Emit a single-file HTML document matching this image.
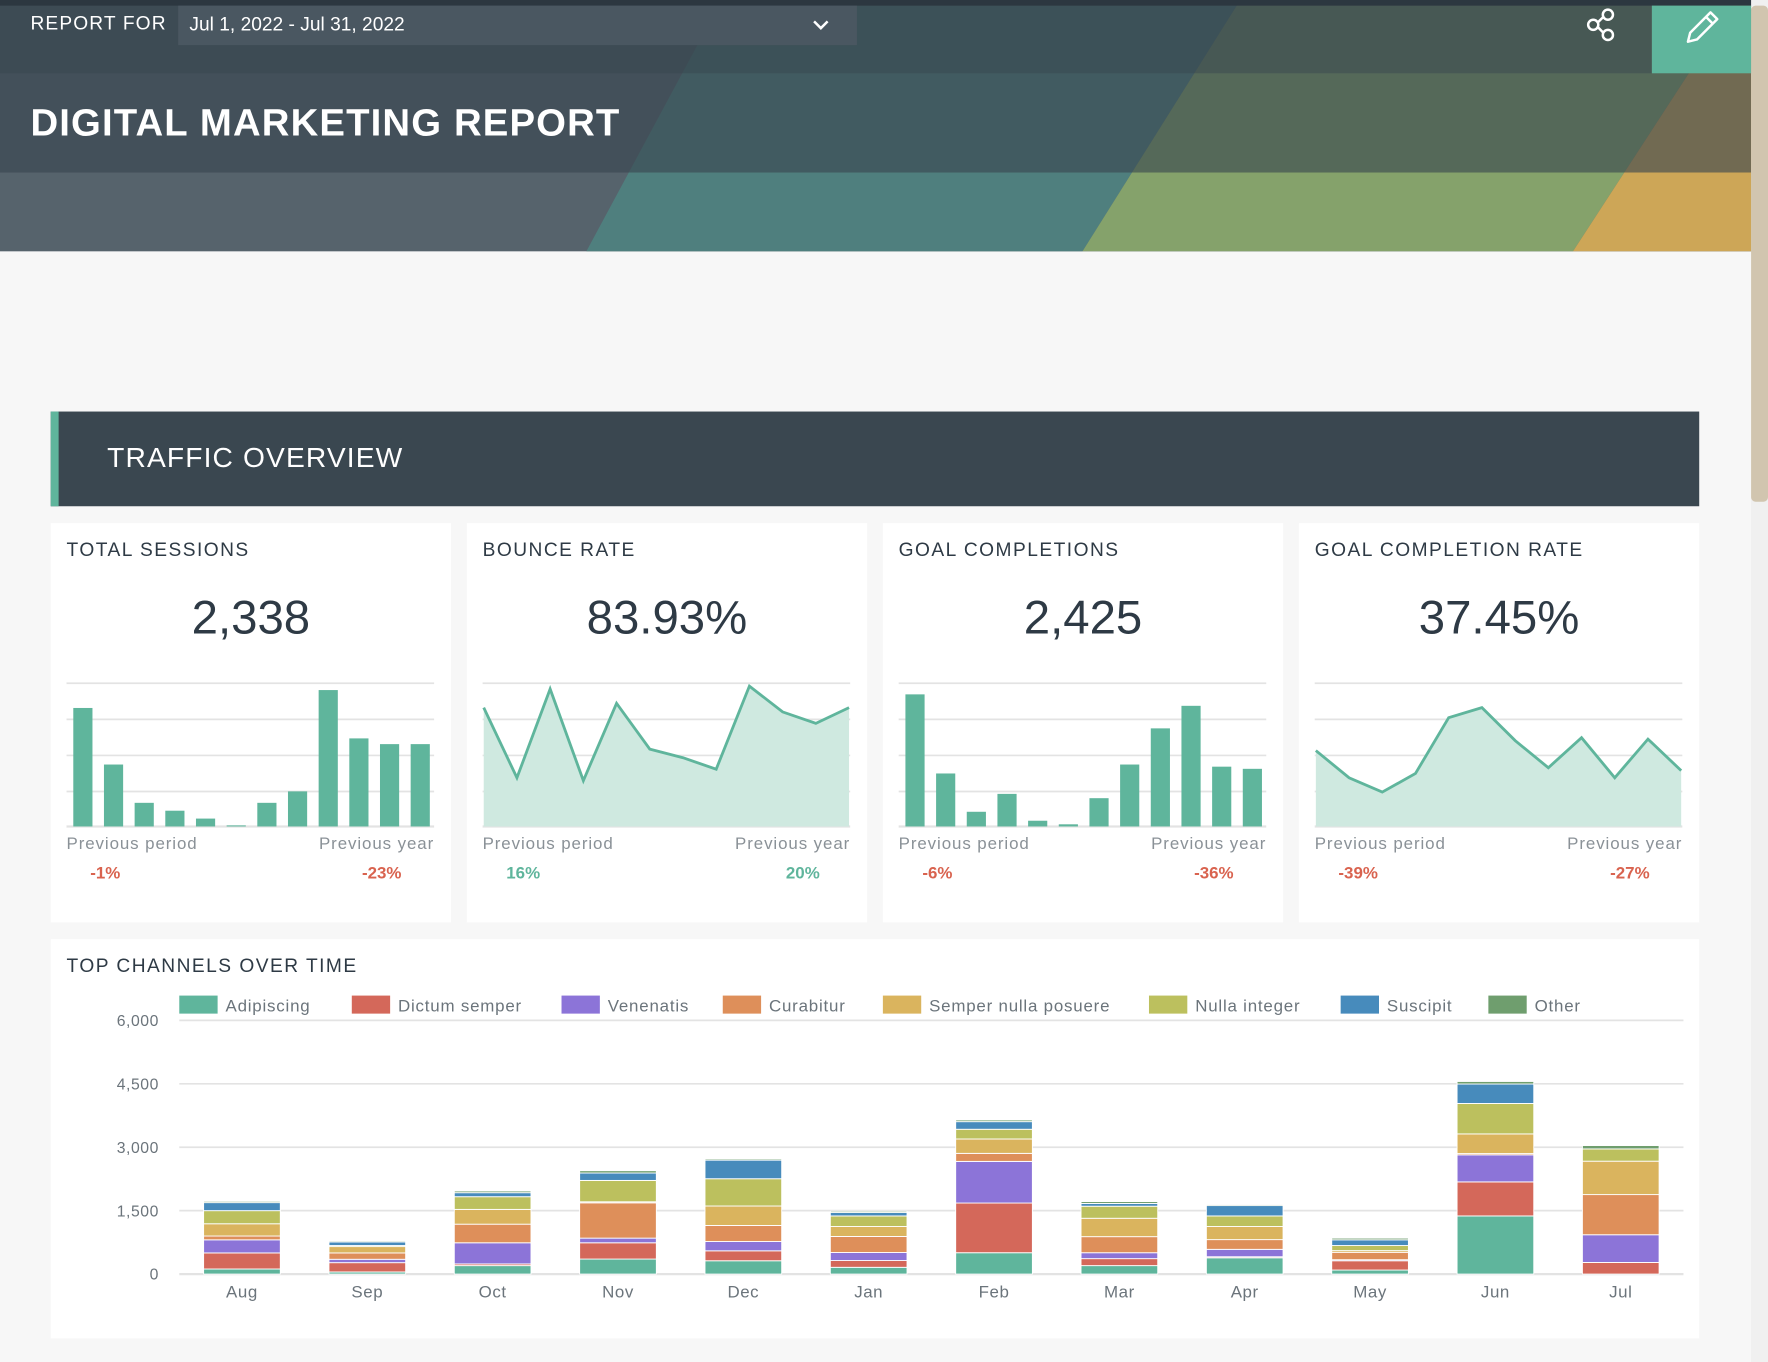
<!DOCTYPE html>
<html><head><meta charset="utf-8">
<style>
html,body{margin:0;padding:0;width:1768px;height:1362px;overflow:hidden;background:#f7f7f7;font-family:"Liberation Sans",sans-serif}
#wrap{position:absolute;left:0;top:0;width:1568px;height:1208px;transform:scale(1.12755,1.1275);transform-origin:0 0}
.abs{position:absolute}
.card{position:absolute;background:#fff;top:464px;width:355px;height:354px}
.ctitle{position:absolute;left:14px;top:14px;font-size:17px;letter-spacing:1.3px;color:#2e3a45}
.cval{position:absolute;left:0;width:355px;top:60px;text-align:center;font-size:42px;color:#2e3a45}
.lbl{position:absolute;top:276px;font-size:15px;color:#8a9197;letter-spacing:0.8px}
.pct{position:absolute;top:302px;font-size:15px;font-weight:bold}
</style></head><body>
<div id="wrap">
<svg class="abs" style="left:0;top:0" width="1568" height="223">
<rect width="1568" height="223" fill="#56636c"/>
<polygon points="520,223 640,0 1100,0 960,223" fill="#4f7f7e"/>
<polygon points="960,223 1100,0 1540,0 1395,223" fill="#85a26b"/>
<polygon points="1395,223 1540,0 1568,0 1568,223" fill="#cda657"/>
<rect x="0" y="0" width="1553" height="153" fill="#38464f" opacity="0.62"/>
<rect x="0" y="0" width="1465" height="65" fill="#37444e" opacity="0.45"/>
<rect x="0" y="0" width="1568" height="5" fill="#2c3740"/>
</svg>
<div class="abs" style="left:1553px;top:0;width:15px;height:1208px;background:#f0f0f0"><div style="margin-top:5px;height:440px;background:#b8a27a;opacity:.55;border-radius:4px"></div></div>
<div class="abs" style="left:27px;top:11px;font-size:17px;color:#fff;letter-spacing:1px">REPORT FOR</div>
<div class="abs" style="left:158px;top:5px;width:602px;height:35px;background:#4a5761">
<span style="position:absolute;left:10px;top:7px;font-size:17px;color:#fff">Jul 1, 2022 - Jul 31, 2022</span>
<svg style="position:absolute;left:562px;top:11px" width="16" height="12"><polyline points="2,3 8,9 14,3" fill="none" stroke="#fff" stroke-width="2.2"/></svg>
</div>
<svg class="abs" style="left:1406px;top:7px" width="28" height="30">
<circle cx="20" cy="6" r="4.5" fill="none" stroke="#fff" stroke-width="2.2"/><circle cx="7" cy="15" r="4.5" fill="none" stroke="#fff" stroke-width="2.2"/><circle cx="20" cy="24" r="4.5" fill="none" stroke="#fff" stroke-width="2.2"/>
<line x1="11" y1="13" x2="16" y2="8" stroke="#fff" stroke-width="2.2"/><line x1="11" y1="17" x2="16" y2="22" stroke="#fff" stroke-width="2.2"/></svg>
<div class="abs" style="left:1465px;top:5px;width:88px;height:60px;background:#5fb59c">
<svg style="position:absolute;left:28px;top:2px" width="34" height="34"><path d="M4,30 L6,22 L24,4 L30,10 L12,28 Z M20,8 L26,14" fill="none" stroke="#fff" stroke-width="2.2" stroke-linejoin="round"/></svg></div>
<div class="abs" style="left:27px;top:90px;font-size:34px;font-weight:bold;color:#fff;letter-spacing:1px">DIGITAL MARKETING REPORT</div>

<div class="abs" style="left:45px;top:365px;width:1462px;height:84px;background:#3a4750;border-left:7px solid #5fb59c;box-sizing:border-box">
<span style="position:absolute;left:43px;top:27px;font-size:25px;color:#fff;letter-spacing:1px">TRAFFIC OVERVIEW</span></div>

<div class="card" style="left:45px">
<div class="ctitle">TOTAL SESSIONS</div><div class="cval">2,338</div>
<svg id="c1" class="abs" style="left:0;top:0" width="355" height="280"></svg>
<div class="lbl" style="left:14px">Previous period</div><div class="lbl" style="right:15px">Previous year</div>
<div class="pct" style="left:35px;color:#d9634f">-1%</div><div class="pct" style="left:276px;color:#d9634f">-23%</div></div>
<div class="card" style="left:414px">
<div class="ctitle">BOUNCE RATE</div><div class="cval">83.93%</div>
<svg id="c2" class="abs" style="left:0;top:0" width="355" height="280"></svg>
<div class="lbl" style="left:14px">Previous period</div><div class="lbl" style="right:15px">Previous year</div>
<div class="pct" style="left:35px;color:#5fb59c">16%</div><div class="pct" style="left:283px;color:#5fb59c">20%</div></div>
<div class="card" style="left:783px">
<div class="ctitle">GOAL COMPLETIONS</div><div class="cval">2,425</div>
<svg id="c3" class="abs" style="left:0;top:0" width="355" height="280"></svg>
<div class="lbl" style="left:14px">Previous period</div><div class="lbl" style="right:15px">Previous year</div>
<div class="pct" style="left:35px;color:#d9634f">-6%</div><div class="pct" style="left:276px;color:#d9634f">-36%</div></div>
<div class="card" style="left:1152px">
<div class="ctitle">GOAL COMPLETION RATE</div><div class="cval">37.45%</div>
<svg id="c4" class="abs" style="left:0;top:0" width="355" height="280"></svg>
<div class="lbl" style="left:14px">Previous period</div><div class="lbl" style="right:15px">Previous year</div>
<div class="pct" style="left:35px;color:#d9634f">-39%</div><div class="pct" style="left:276px;color:#d9634f">-27%</div></div>

<div class="abs" style="left:45px;top:833px;width:1462px;height:354px;background:#fff">
<div class="ctitle" style="top:14px">TOP CHANNELS OVER TIME</div>
<svg id="big" class="abs" style="left:0;top:0" width="1462" height="354"></svg></div>
</div>
<script>
const NS='http://www.w3.org/2000/svg';
function mk(p,t,a){const e=document.createElementNS(NS,t);for(const k in a)e.setAttribute(k,a[k]);p.appendChild(e);return e;}
// KPI data
const sessionsValues=[331,173,66,44,22,3,66,98,381,246,230,230];
const bounceValues=[83,34,96,32,86,54,48,40,98,80,72,83];
const goalValues=[369,148,41,91,16,6,79,173,274,337,167,161];
const goalRateValues=[53,34,24,37,76,83,60,41,62,34,61,39];
function grid(s){[142,174,206,238].forEach(y=>{const l=mk(s,'line',{x1:14,x2:340,y1:y,y2:y,stroke:'#e3e3e3','stroke-width':1.5});

});
const b=mk(s,'line',{x1:14,x2:340,y1:269,y2:269,stroke:'#e3e3e3','stroke-width':2});

}
function bars(id,vals,max){const s=document.getElementById(id);grid(s);const y=v=>269-v/max*127;
vals.forEach((v,i)=>{const r=mk(s,'rect',{x:20+i*27.2,y:y(v),width:17,height:269-y(v),fill:'#5fb59c'});

});}
function area(id,vals,max){const s=document.getElementById(id);grid(s);const x=i=>15+i*(324/11),y=v=>269-v/max*127;
let pts=vals.map((v,i)=>x(i)+','+y(v)).join(' ');
const a=mk(s,'polygon',{points:x(0)+',269 '+pts+' '+x(11)+',269',fill:'#cfe9e0'});


const l=mk(s,'polyline',{points:pts,fill:'none',stroke:'#5fb59c','stroke-width':2.5});

}
bars('c1',sessionsValues,400);area('c2',bounceValues,100);bars('c3',goalValues,400);area('c4',goalRateValues,100);

// Stacked chart data
const months=['Aug','Sep','Oct','Nov','Dec','Jan','Feb','Mar','Apr','May','Jun','Jul'];
const seriesNames=['Adipiscing','Dictum semper','Venenatis','Curabitur','Semper nulla posuere','Nulla integer','Suscipit','Other'];
const seriesColors=['#5fb59c','#d4685a','#8c74d8','#de8f5a','#dab45e','#bcc05e','#478bbc','#6f9e6e'];
const adipiscing=[120,50,200,355,315,160,505,200,385,95,1375,0];
const dictumSemper=[380,220,40,385,235,160,1175,165,25,220,805,275];
const venenatis=[310,80,500,110,220,190,985,140,175,25,640,655];
const curabitur=[90,150,440,835,380,380,190,380,230,175,30,950];
const semperNulla=[290,150,350,25,460,235,340,435,310,40,465,790];
const nullaInteger=[310,25,300,505,645,250,230,285,250,120,720,290];
const suscipit=[190,85,95,175,440,80,180,65,245,135,460,0];
const other=[30,25,40,55,30,30,40,45,25,40,60,80];
const seriesData=[adipiscing,dictumSemper,venenatis,curabitur,semperNulla,nullaInteger,suscipit,other];
const yTicks=[0,1500,3000,4500,6000];
const yTickLabels=['0','1,500','3,000','4,500','6,000'];
const big=document.getElementById('big');
const X0=114,X1=1448,Ytop=72,Ybot=297,YMAX=6000;
const ys=v=>Ybot-v/YMAX*(Ybot-Ytop);
const band=(X1-X0)/months.length;
const xc=i=>X0+band*(i+0.5);
yTicks.forEach((t,i)=>{const l=mk(big,'line',{x1:X0,x2:X1,y1:ys(t),y2:ys(t),stroke:'#e3e3e3','stroke-width':t===0?2:1.5});


const tx=mk(big,'text',{x:96,y:ys(t)+5,'text-anchor':'end','font-size':14,fill:'#6b747b','letter-spacing':0.5});tx.textContent=yTickLabels[i];

});
months.forEach((m,i)=>{let acc=0;
seriesData.forEach((arr,s)=>{const v=arr[i];if(v<=0)return;const y1=ys(acc+v),y0=ys(acc);
const r=mk(big,'rect',{x:xc(i)-34,y:y1,width:68,height:Math.max(y0-y1,0.5),fill:seriesColors[s],stroke:'#fff','stroke-width':0.8});

acc+=v;});
const tx=mk(big,'text',{x:xc(i),y:318,'text-anchor':'middle','font-size':15,fill:'#6b747b','letter-spacing':0.5});tx.textContent=m;

});
const legendX=[114,267,453,596,738,974,1144,1275];
seriesNames.forEach((n,i)=>{const g=mk(big,'g',{});


mk(g,'rect',{x:legendX[i],y:50,width:34,height:16,fill:seriesColors[i]});
const t=mk(g,'text',{x:legendX[i]+41,y:64,'font-size':15,fill:'#6b747b','letter-spacing':0.7});t.textContent=n;});
</script>
</body></html>
